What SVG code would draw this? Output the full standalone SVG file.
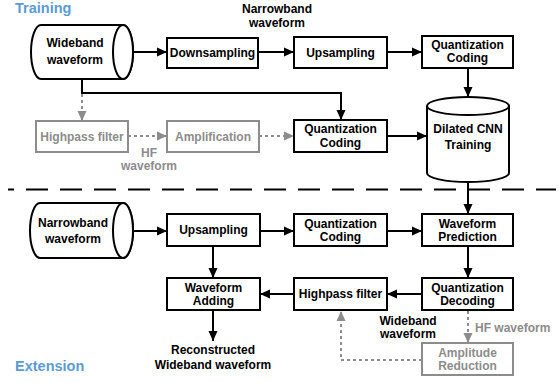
<svg xmlns="http://www.w3.org/2000/svg" width="559" height="383" viewBox="0 0 559 383">
<defs>
<marker id="ah" markerUnits="userSpaceOnUse" markerWidth="10" markerHeight="10" viewBox="0 0 10 10" refX="10" refY="5" orient="auto"><path d="M0,0.5 L10,5 L0,9.5 Z" fill="#000"/></marker>
<marker id="ahg" markerUnits="userSpaceOnUse" markerWidth="10" markerHeight="10" viewBox="0 0 10 10" refX="10" refY="5" orient="auto"><path d="M0,0.5 L10,5 L0,9.5 Z" fill="#8c8c8c"/></marker>
</defs>
<style>
text{font-family:"Liberation Sans",Arial,sans-serif;font-weight:bold;font-size:12px;text-anchor:middle;fill:#000}
.g text,text.g{fill:#8c8c8c}
.title{font-size:14.5px;fill:#5b9bd5;text-anchor:start}
.box{fill:#fff;stroke:#000;stroke-width:2}
.gbox{fill:#fff;stroke:#8c8c8c;stroke-width:2}
.ln{fill:none;stroke:#000;stroke-width:2}
.gl{fill:none;stroke:#8c8c8c;stroke-width:2;stroke-dasharray:3 3}
</style>
<text class="title" x="15" y="13">Training</text>
<text class="title" x="15" y="371">Extension</text>

<g id="connectors">
<line x1="8" y1="189.5" x2="556" y2="189.5" stroke="#000" stroke-width="2" stroke-dasharray="22 12" stroke-dashoffset="16"/>
<line class="ln" x1="133" y1="52" x2="167" y2="52" marker-end="url(#ah)"/>
<line class="ln" x1="258" y1="52" x2="294" y2="52" marker-end="url(#ah)"/>
<line class="ln" x1="387" y1="52" x2="422" y2="52" marker-end="url(#ah)"/>
<line class="ln" x1="468" y1="68" x2="468" y2="97" marker-end="url(#ah)"/>
<polyline class="ln" points="82,79 82,93 341,93 341,120" marker-end="url(#ah)"/>
<line class="gl" x1="82" y1="94" x2="82" y2="121" marker-end="url(#ahg)"/>
<line class="gl" x1="128" y1="136" x2="167" y2="136" marker-end="url(#ahg)"/>
<line class="gl" x1="259" y1="136" x2="294" y2="136" marker-end="url(#ahg)"/>
<line class="ln" x1="387" y1="136" x2="427" y2="136" marker-end="url(#ah)"/>
<line class="ln" x1="468" y1="182" x2="468" y2="214" marker-end="url(#ah)"/>
<line class="ln" x1="133" y1="231" x2="167" y2="231" marker-end="url(#ah)"/>
<line class="ln" x1="260" y1="231" x2="294" y2="231" marker-end="url(#ah)"/>
<line class="ln" x1="387" y1="231" x2="422" y2="231" marker-end="url(#ah)"/>
<line class="ln" x1="468" y1="246" x2="468" y2="278" marker-end="url(#ah)"/>
<line class="ln" x1="422" y1="294" x2="387" y2="294" marker-end="url(#ah)"/>
<line class="ln" x1="294" y1="294" x2="260" y2="294" marker-end="url(#ah)"/>
<line class="ln" x1="213" y1="246" x2="213" y2="278" marker-end="url(#ah)"/>
<line class="ln" x1="213" y1="310" x2="213" y2="341" marker-end="url(#ah)"/>
<line class="gl" x1="468" y1="311" x2="468" y2="343" marker-end="url(#ahg)"/>
<polyline class="gl" points="422,360 341,360 341,311" marker-end="url(#ahg)"/>
</g>

<g id="labels">
<text x="277" y="13">Narrowband</text>
<text x="277" y="27">waveform</text>
<text class="g" x="149" y="157">HF</text>
<text class="g" x="149" y="170">waveform</text>
<text x="408" y="325">Wideband</text>
<text x="408" y="338">waveform</text>
<text class="g" x="475" y="332" style="text-anchor:start">HF waveform</text>
<text x="213" y="354">Reconstructed</text>
<text x="213" y="369">Wideband waveform</text>
</g>

<g id="wideband">
<path class="box" d="M41,25 H123 A10,27 0 0 1 123,79 H41 A10,27 0 0 1 41,25 Z"/>
<ellipse class="box" cx="123" cy="52" rx="10" ry="27" fill="none"/>
<text x="75" y="47">Wideband</text>
<text x="75" y="64">waveform</text>
</g>
<g id="downsampling"><rect class="box" x="167" y="38" width="91" height="30"/><text x="212.5" y="57">Downsampling</text></g>
<g id="upsampling1"><rect class="box" x="294" y="37" width="93" height="31"/><text x="340.5" y="57">Upsampling</text></g>
<g id="qcoding1"><rect class="box" x="422" y="36" width="91" height="32"/><text x="467.5" y="49">Quantization</text><text x="467.5" y="62">Coding</text></g>
<g id="highpass1" class="g"><rect class="gbox" x="36" y="121" width="92" height="31"/><text x="82" y="141">Highpass filter</text></g>
<g id="amplification" class="g"><rect class="gbox" x="167" y="121" width="92" height="31"/><text x="213" y="141">Amplification</text></g>
<g id="qcoding2"><rect class="box" x="294" y="120" width="93" height="32"/><text x="340.5" y="133">Quantization</text><text x="340.5" y="147">Coding</text></g>
<g id="dilatedcnn">
<path class="box" d="M427,106 V173 A41,9 0 0 0 509,173 V106 A41,9 0 0 0 427,106 Z"/>
<path class="ln" d="M427,106 A41,9 0 0 0 509,106"/>
<text x="468" y="133">Dilated CNN</text>
<text x="468" y="149">Training</text>
</g>

<g id="narrowband">
<path class="box" d="M40,203 H123 A10,27.5 0 0 1 123,258 H40 A10,27.5 0 0 1 40,203 Z"/>
<ellipse class="box" cx="123" cy="230.5" rx="10" ry="27.5" fill="none"/>
<text x="73" y="227">Narrowband</text>
<text x="73" y="243">waveform</text>
</g>
<g id="upsampling2"><rect class="box" x="167" y="214" width="93" height="32"/><text x="213.5" y="234">Upsampling</text></g>
<g id="qcoding3"><rect class="box" x="294" y="214" width="93" height="32"/><text x="340.5" y="228">Quantization</text><text x="340.5" y="241">Coding</text></g>
<g id="prediction"><rect class="box" x="422" y="214" width="91" height="32"/><text x="467.5" y="228">Waveform</text><text x="467.5" y="241">Prediction</text></g>
<g id="qdecoding"><rect class="box" x="422" y="278" width="91" height="32"/><text x="467.5" y="292">Quantization</text><text x="467.5" y="305">Decoding</text></g>
<g id="highpass2"><rect class="box" x="294" y="278" width="93" height="32"/><text x="340.5" y="298">Highpass filter</text></g>
<g id="adding"><rect class="box" x="167" y="278" width="93" height="32"/><text x="213.5" y="292">Waveform</text><text x="213.5" y="305">Adding</text></g>
<g id="amplitude" class="g"><rect class="gbox" x="422" y="343" width="91" height="32"/><text x="467.5" y="357">Amplitude</text><text x="467.5" y="370">Reduction</text></g>
</svg>
